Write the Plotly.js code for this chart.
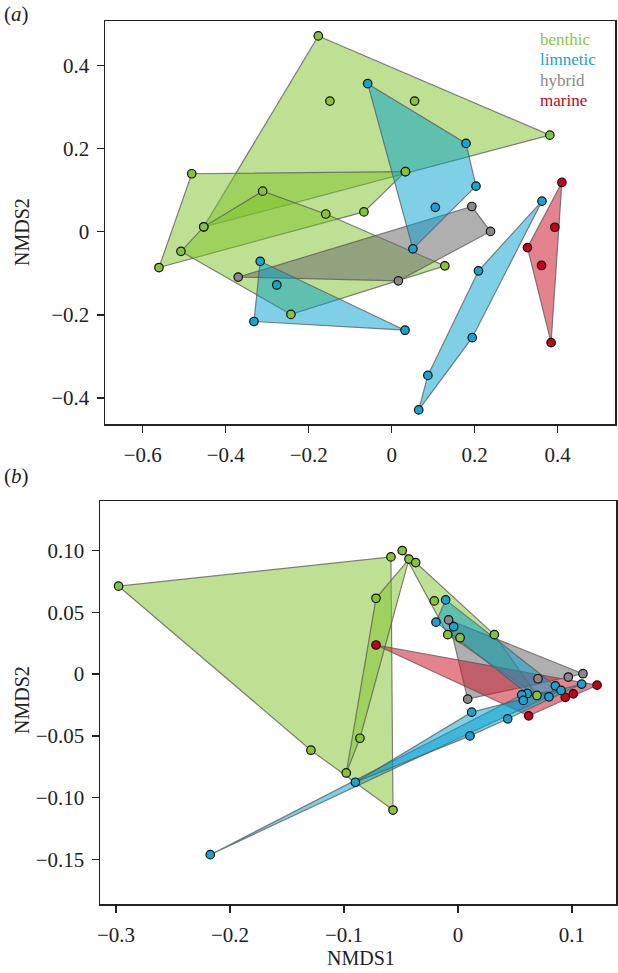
<!DOCTYPE html>
<html><head><meta charset="utf-8">
<script src="https://cdn.plot.ly/plotly-3.0.1.min.js"></script>
<style>html,body{margin:0;padding:0;background:#fff;}#chart{width:618px;height:973px;}</style>
</head><body><div id="chart"></div>
<script>
// ---------- Panel (a) data: NMDS1, NMDS2 per group (each group = one hull) ----------
const aBenthic1X = [-0.177, 0.381, -0.453, -0.149, 0.055, 0.033];
const aBenthic1Y = [0.472, 0.233, 0.012, 0.315, 0.315, 0.145];
const aBenthic2X = [-0.482, 0.033, -0.067, -0.561];
const aBenthic2Y = [0.140, 0.145, 0.048, -0.086];
const aBenthic3X = [-0.453, -0.311, -0.159, 0.128, -0.243, -0.508];
const aBenthic3Y = [0.012, 0.098, 0.043, -0.082, -0.199, -0.047];
const aLimnetic1X = [-0.058, 0.179, 0.203, 0.105, 0.051];
const aLimnetic1Y = [0.357, 0.213, 0.110, 0.059, -0.041];
const aLimnetic2X = [0.362, 0.209, 0.194, 0.087, 0.065];
const aLimnetic2Y = [0.074, -0.094, -0.255, -0.346, -0.429];
const aLimnetic3X = [-0.317, -0.277, -0.332, 0.032];
const aLimnetic3Y = [-0.071, -0.128, -0.216, -0.237];
const aHybridX = [0.193, 0.238, 0.016, -0.370];
const aHybridY = [0.061, 0.001, -0.118, -0.109];
const aMarineX = [0.410, 0.393, 0.327, 0.361, 0.384];
const aMarineY = [0.119, 0.011, -0.038, -0.081, -0.267];

// ---------- Panel (b) data ----------
const bBenthic1X = [-0.2977, -0.0588, -0.057, -0.129];
const bBenthic1Y = [0.0711, 0.0948, -0.110, -0.0616];
const bBenthic2X = [-0.043, -0.0719, -0.086, -0.098];
const bBenthic2Y = [0.093, 0.0613, -0.0519, -0.080];
const bBenthic3X = [-0.0489, -0.0371, 0.0319, 0.0693, -0.0208, -0.009, 0.0018];
const bBenthic3Y = [0.0999, 0.0902, 0.0319, -0.0173, 0.0592, 0.0319, 0.0294];
const bLimnetic1X = [-0.0108, -0.0193, -0.0038, 0.0608, 0.0854, 0.0798];
const bLimnetic1Y = [0.060, 0.042, 0.0383, -0.0157, -0.0095, -0.0184];
const bLimnetic2X = [-0.2173, 0.0559, 0.0573, 0.0904];
const bLimnetic2Y = [-0.1461, -0.0168, -0.0213, -0.0132];
const bLimnetic3X = [-0.090, 0.012, 0.0105, 0.0436, 0.1085];
const bLimnetic3Y = [-0.0875, -0.0308, -0.050, -0.0362, -0.0081];
const bHybridX = [-0.0082, 0.1096, 0.0968, 0.0702, 0.0085];
const bHybridY = [0.0438, 0.0003, -0.0024, -0.0038, -0.0203];
const bMarineX = [-0.0719, 0.122, 0.062, 0.0941, 0.1012];
const bMarineY = [0.0235, -0.009, -0.0338, -0.0189, -0.016];

const legendLabels = ['benthic', 'limnetic', 'hybrid', 'marine'];
const aXTicks = [-0.6, -0.4, -0.2, 0, 0.2, 0.4];
const aXTickText = ['\u22120.6', '\u22120.4', '\u22120.2', '0', '0.2', '0.4'];
const aYTicks = [-0.4, -0.2, 0, 0.2, 0.4];
const aYTickText = ['\u22120.4', '\u22120.2', '0', '0.2', '0.4'];
const bXTicks = [-0.3, -0.2, -0.1, 0, 0.1];
const bXTickText = ['\u22120.3', '\u22120.2', '\u22120.1', '0', '0.1'];
const bYTicks = [-0.15, -0.10, -0.05, 0, 0.05, 0.10];
const bYTickText = ['\u22120.15', '\u22120.10', '\u22120.05', '0', '0.05', '0.10'];

// ---------- styling ----------
const COLORS = {
  benthic: {fill: 'rgba(125,193,40,0.5)', pt: '#86c23a'},
  limnetic: {fill: 'rgba(0,160,205,0.5)', pt: '#1ba2cf'},
  hybrid: {fill: 'rgba(110,110,110,0.55)', pt: '#888888'},
  marine: {fill: 'rgba(205,30,50,0.55)', pt: '#c4001a'}
};
const TEXTCOL = {benthic: '#8cc63f', limnetic: '#1ba2cf', hybrid: '#8a8a8a', marine: '#c4001a'};

function hull(xs, ys) {
  const pts = xs.map((x, i) => [x, ys[i]]).sort((a, b) => a[0] - b[0] || a[1] - b[1]);
  const cross = (o, a, b) => (a[0]-o[0])*(b[1]-o[1]) - (a[1]-o[1])*(b[0]-o[0]);
  const lower = [], upper = [];
  for (const p of pts) { while (lower.length >= 2 && cross(lower[lower.length-2], lower[lower.length-1], p) <= 0) lower.pop(); lower.push(p); }
  for (let i = pts.length - 1; i >= 0; i--) { const p = pts[i]; while (upper.length >= 2 && cross(upper[upper.length-2], upper[upper.length-1], p) <= 0) upper.pop(); upper.push(p); }
  upper.pop(); lower.pop();
  const h = lower.concat(upper); h.push(h[0]);
  return h;
}

const traces = [];
function addGroup(xs, ys, kind, xa, ya) {
  const h = hull(xs, ys);
  traces.push({type: 'scatter', mode: 'lines', x: h.map(p => p[0]), y: h.map(p => p[1]),
    fill: 'toself', fillcolor: COLORS[kind].fill,
    line: {color: 'rgba(90,90,90,0.75)', width: 1.2}, xaxis: xa, yaxis: ya, hoverinfo: 'skip', showlegend: false});
}
function addPoints(xs, ys, kind, xa, ya) {
  traces.push({type: 'scatter', mode: 'markers', x: xs, y: ys,
    marker: {color: COLORS[kind].pt, size: 8.5, line: {color: '#111', width: 1.2}},
    xaxis: xa, yaxis: ya, showlegend: false});
}
const aGroups = [
  [aBenthic1X, aBenthic1Y, 'benthic'], [aBenthic2X, aBenthic2Y, 'benthic'], [aBenthic3X, aBenthic3Y, 'benthic'],
  [aHybridX, aHybridY, 'hybrid'],
  [aLimnetic1X, aLimnetic1Y, 'limnetic'], [aLimnetic2X, aLimnetic2Y, 'limnetic'], [aLimnetic3X, aLimnetic3Y, 'limnetic'],
  [aMarineX, aMarineY, 'marine']
];
const bGroups = [
  [bBenthic1X, bBenthic1Y, 'benthic'], [bBenthic2X, bBenthic2Y, 'benthic'], [bBenthic3X, bBenthic3Y, 'benthic'],
  [bHybridX, bHybridY, 'hybrid'], [bMarineX, bMarineY, 'marine'],
  [bLimnetic1X, bLimnetic1Y, 'limnetic'], [bLimnetic2X, bLimnetic2Y, 'limnetic'], [bLimnetic3X, bLimnetic3Y, 'limnetic']
];
aGroups.forEach(g => addGroup(g[0], g[1], g[2], 'x', 'y'));
bGroups.forEach(g => addGroup(g[0], g[1], g[2], 'x2', 'y2'));
aGroups.forEach(g => addPoints(g[0], g[1], g[2], 'x', 'y'));
bGroups.forEach(g => addPoints(g[0], g[1], g[2], 'x2', 'y2'));

const W = 618, H = 973;
const px = v => v / W, py = v => 1 - v / H;
const FONT = 'Liberation Serif';
const axisBase = {showline: true, mirror: true, linecolor: '#222', linewidth: 1.5, showgrid: false, zeroline: false,
  ticks: 'outside', ticklen: 7, tickwidth: 1.3, tickcolor: '#222', tickfont: {family: FONT, size: 21, color: '#222'},
  tickmode: 'array', automargin: false, fixedrange: true};
const xBase = Object.assign({}, axisBase, {ticklabelstandoff: 4});
const yBase = Object.assign({}, axisBase, {ticklabelstandoff: 3});

const annotations = [
  {text: '(<i>a</i>)', x: px(2), y: py(14), xanchor: 'left', yanchor: 'middle'},
  {text: '(<i>b</i>)', x: px(2), y: py(476), xanchor: 'left', yanchor: 'middle'},
  {text: 'NMDS2', x: px(22), y: py(232), textangle: -90, xanchor: 'center', yanchor: 'middle', size: 20},
  {text: 'NMDS2', x: px(22), y: py(700), textangle: -90, xanchor: 'center', yanchor: 'middle', size: 20},
  {text: 'NMDS1', x: px(361), y: py(958), xanchor: 'center', yanchor: 'middle', size: 20}
].map(a => ({xref: 'paper', yref: 'paper', showarrow: false, text: a.text, x: a.x, y: a.y,
  xanchor: a.xanchor, yanchor: a.yanchor, textangle: a.textangle || 0,
  font: {family: FONT, size: a.size || 21, color: '#222'}}));
const legendY = [40, 60, 80, 100];
const legendKinds = ['benthic', 'limnetic', 'hybrid', 'marine'];
legendLabels.forEach((lab, i) => annotations.push({xref: 'paper', yref: 'paper', showarrow: false, text: lab,
  x: px(538), y: py(legendY[i]), xanchor: 'left', yanchor: 'middle',
  font: {family: FONT, size: 17, color: TEXTCOL[legendKinds[i]]}}));

const layout = {
  width: W, height: H, margin: {l: 0, r: 0, t: 0, b: 0}, paper_bgcolor: '#fff', plot_bgcolor: '#fff',
  font: {family: FONT, size: 20, color: '#222'},
  showlegend: false,
  xaxis: Object.assign({}, xBase, {domain: [px(105), px(615)], range: [-0.691, 0.538], anchor: 'y', tickvals: aXTicks, ticktext: aXTickText}),
  yaxis: Object.assign({}, yBase, {domain: [py(424), py(21)], range: [-0.463, 0.508], anchor: 'x', tickvals: aYTicks, ticktext: aYTickText}),
  xaxis2: Object.assign({}, xBase, {domain: [px(100), px(616)], range: [-0.314, 0.1386], anchor: 'y2', tickvals: bXTicks, ticktext: bXTickText}),
  yaxis2: Object.assign({}, yBase, {domain: [py(904), py(501)], range: [-0.186, 0.140], anchor: 'x2', tickvals: bYTicks, ticktext: bYTickText}),
  annotations: annotations
};
Plotly.newPlot('chart', traces, layout, {staticPlot: true, displayModeBar: false});
</script>
</body></html>
